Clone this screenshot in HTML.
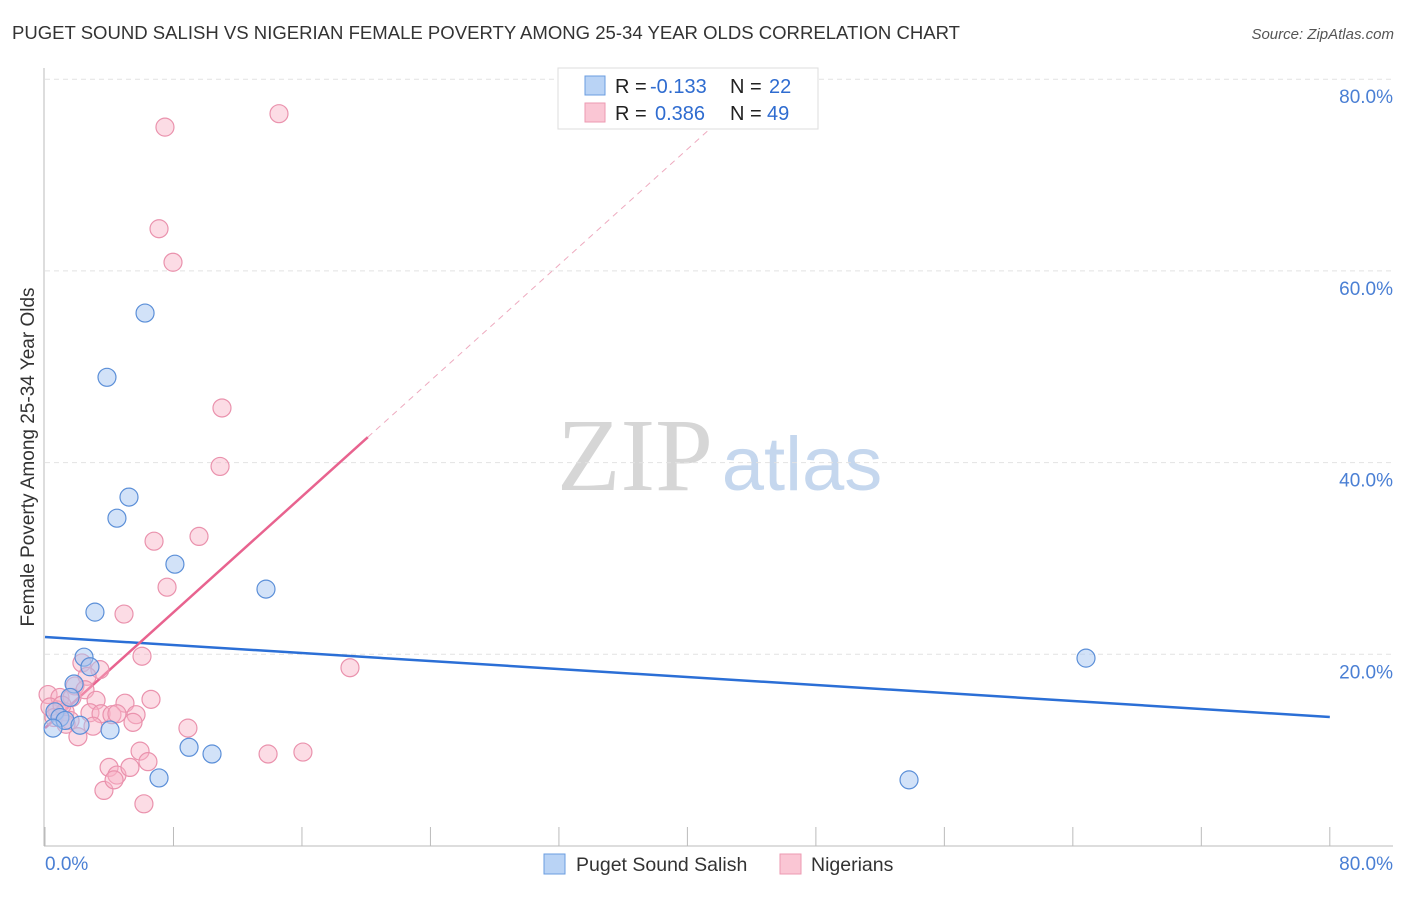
<!DOCTYPE html>
<html><head><meta charset="utf-8"><style>
body{margin:0;background:#fff;font-family:"Liberation Sans",sans-serif;}
svg text{font-family:"Liberation Sans",sans-serif;}
</style></head><body>
<svg id="chart" width="1406" height="892" viewBox="0 0 1406 892" xmlns="http://www.w3.org/2000/svg">
<text x="12" y="39" font-size="18.5" fill="#333" textLength="948" lengthAdjust="spacingAndGlyphs">PUGET SOUND SALISH VS NIGERIAN FEMALE POVERTY AMONG 25-34 YEAR OLDS CORRELATION CHART</text>
<text x="1394" y="39" font-size="15" fill="#555" font-style="italic" text-anchor="end">Source: ZipAtlas.com</text>
<g>
<text x="635" y="490" font-size="104" fill="#d6d6d6" text-anchor="middle" style="font-family:'Liberation Serif',serif">ZIP</text>
<text x="802" y="490" font-size="76" fill="#c5d7ee" text-anchor="middle">atlas</text>
</g>
<g id="grid"></g><g id="axes"></g><g id="trends"></g><g id="points"></g>
<g>
<rect x="558" y="68" width="260" height="61" fill="#fff" stroke="#ddd"/>
<rect x="585" y="76" width="20" height="19" fill="#b9d3f5" stroke="#6a9ce0"/>
<rect x="585" y="103" width="20" height="19" fill="#fac6d4" stroke="#ec9ab2"/>
<text x="615" y="93" font-size="20" fill="#222">R =</text>
<text x="650" y="93" font-size="20" fill="#2f6cd0">-0.133</text>
<text x="730" y="93" font-size="20" fill="#222">N =</text>
<text x="769" y="93" font-size="20" fill="#2f6cd0">22</text>
<text x="615" y="120" font-size="20" fill="#222">R =</text>
<text x="655" y="120" font-size="20" fill="#2f6cd0">0.386</text>
<text x="730" y="120" font-size="20" fill="#222">N =</text>
<text x="767" y="120" font-size="20" fill="#2f6cd0">49</text>
</g>
<text transform="translate(34,457) rotate(-90)" font-size="19" fill="#333" text-anchor="middle">Female Poverty Among 25-34 Year Olds</text>
<g>
<rect x="544" y="854" width="21" height="20" fill="#b9d3f5" stroke="#6a9ce0"/>
<text x="576" y="871" font-size="19.5" fill="#333">Puget Sound Salish</text>
<rect x="780" y="854" width="21" height="20" fill="#fac6d4" stroke="#ec9ab2"/>
<text x="811" y="871" font-size="19.5" fill="#333">Nigerians</text>
</g>
</svg>
<script>
const blueX=[6.23,3.86,5.23,4.48,8.09,13.76,3.11,2.43,2.80,1.81,1.56,0.62,0.93,1.25,2.18,0.50,4.05,8.97,10.40,7.10,64.82,53.80];
const blueY=[55.6,48.9,36.4,34.2,29.4,26.8,24.4,19.7,18.7,16.9,15.5,14.0,13.4,13.1,12.6,12.3,12.1,10.3,9.6,7.1,19.6,6.9];
const pinkX=[7.47,14.57,7.10,7.97,11.02,10.90,6.79,9.59,7.60,4.92,6.04,18.99,3.42,2.30,2.62,1.87,0.19,0.93,1.68,2.49,3.18,4.98,6.60,0.75,0.31,1.25,2.80,3.49,4.17,4.48,5.67,0.56,1.56,1.31,2.99,5.48,8.90,2.05,5.92,3.99,4.48,5.29,6.41,3.67,4.30,6.16,13.89,16.06,1.06];
const pinkY=[75.0,76.4,64.4,60.9,45.7,39.6,31.8,32.3,27.0,24.2,19.8,18.6,18.4,19.1,17.7,16.7,15.8,15.5,15.5,16.3,15.2,14.9,15.3,14.2,14.5,14.0,13.9,13.8,13.7,13.8,13.7,13.4,13.1,12.7,12.5,12.9,12.3,11.4,9.9,8.2,7.4,8.2,8.8,5.8,6.9,4.4,9.6,9.8,14.7];
const yTicks=[20,40,60,80];
const yTickLabels=["20.0%","40.0%","60.0%","80.0%"];
const xTicks=[0,8,16,24,32,40,48,56,64,72,80];
const xEndLabels=["0.0%","80.0%"];
const blueTrend=[21.8,13.46];
const pinkTrend=[12.3,1.51];
const NS="http://www.w3.org/2000/svg";
const sx=v=>45+v*16.06, sy=v=>846-v*9.585;
function mk(p,tag,a){const e=document.createElementNS(NS,tag);for(const k in a)e.setAttribute(k,a[k]);p.appendChild(e);return e;}
const grid=document.getElementById('grid'),axes=document.getElementById('axes'),tr=document.getElementById('trends'),pts=document.getElementById('points');
yTicks.forEach((t,i)=>{
 const l=mk(grid,'line',{x1:45,x2:1393,y1:sy(t),y2:sy(t),stroke:'#e2e2e2','stroke-dasharray':'5,4'});
 
 
 const tx=mk(grid,'text',{x:1393,y:sy(t)+24,'font-size':19,fill:'#4a7fd4','text-anchor':'end'});tx.textContent=yTickLabels[i];
 
 
});
let a=mk(axes,'line',{x1:44,x2:44,y1:68,y2:846,stroke:'#bbb'});


a=mk(axes,'line',{x1:44,x2:1393,y1:846,y2:846,stroke:'#bbb'});


xTicks.forEach(t=>{const l=mk(axes,'line',{x1:sx(t),x2:sx(t),y1:827,y2:846,stroke:'#bbb'});
 
 });
let t0=mk(axes,'text',{x:45,y:870,'font-size':19,fill:'#4a7fd4'});t0.textContent=xEndLabels[0];


let t1=mk(axes,'text',{x:1393,y:870,'font-size':19,fill:'#4a7fd4','text-anchor':'end'});t1.textContent=xEndLabels[1];


function dot(x,y,fill,stroke,name){const c=mk(pts,'circle',{cx:sx(x),cy:sy(y),r:9,fill:fill,stroke:stroke,'stroke-width':1.2});
 
 }
pinkX.forEach((x,i)=>dot(x,pinkY[i],'rgba(248,178,198,0.45)','#ea92ad','nigerian-point'));
blueX.forEach((x,i)=>dot(x,blueY[i],'rgba(165,198,242,0.5)','#5b8fd8','salish-point'));
let b=mk(tr,'line',{x1:sx(0),y1:sy(blueTrend[0]),x2:sx(80),y2:sy(blueTrend[1]),stroke:'#2b6fd6','stroke-width':2.5});


const pe=20.1, pd=(80-pinkTrend[0])/pinkTrend[1];
let p=mk(tr,'line',{x1:sx(0),y1:sy(pinkTrend[0]),x2:sx(pe),y2:sy(pinkTrend[0]+pinkTrend[1]*pe),stroke:'#e8638f','stroke-width':2.5});


let pd2=mk(tr,'line',{x1:sx(pe),y1:sy(pinkTrend[0]+pinkTrend[1]*pe),x2:sx(pd),y2:sy(80),stroke:'#eeaabf','stroke-width':1,'stroke-dasharray':'6,5'});


</script>
</body></html>
